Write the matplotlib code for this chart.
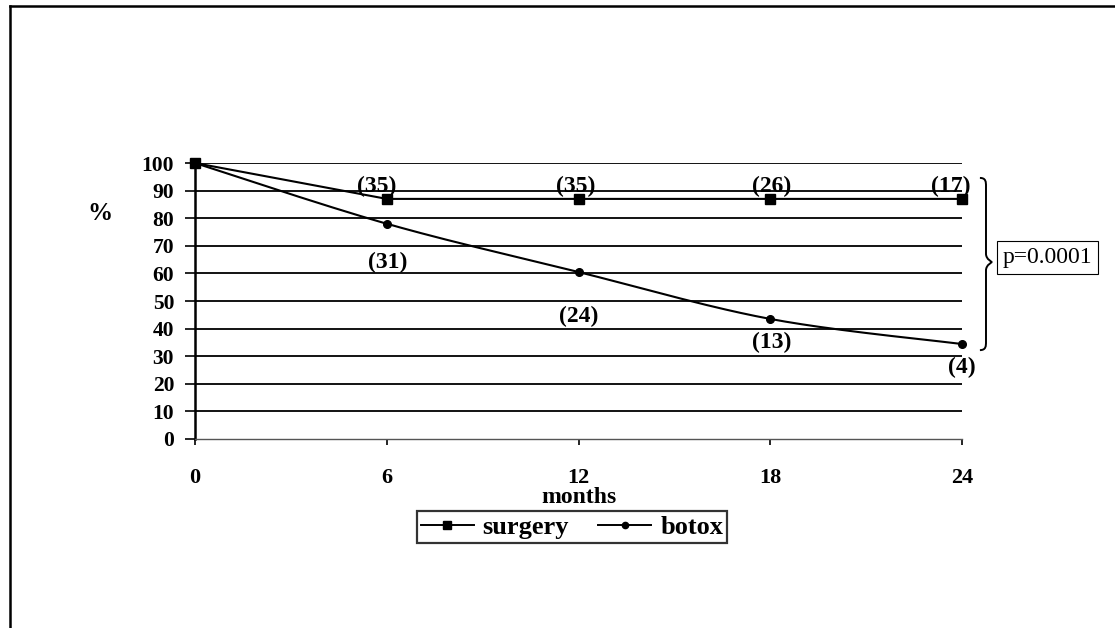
import numpy as np
import matplotlib
matplotlib.use("Agg")
import matplotlib.pyplot as plt
from matplotlib.path import Path
from matplotlib.patches import PathPatch
from matplotlib.lines import Line2D

# Data
months = [0, 6, 12, 18, 24]
surgery = [100, 87, 87, 87, 87]
botox = [100, 78, 60.5, 43.5, 34.4]
surgery_n = ["(35)", "(35)", "(26)", "(17)"]
botox_n = ["(31)", "(24)", "(13)", "(4)"]
y_ticks = list(range(0, 101, 10))
x_ticks = [0, 6, 12, 18, 24]
p_text = "p=0.0001"

plt.rcParams["font.family"] = ["Liberation Serif", "DejaVu Serif"]


def smooth_curve(xs, ys, n=40):
    """Cardinal (Catmull-Rom style) Bezier smoothing through the points."""
    P = np.column_stack([xs, ys]).astype(float)
    ext = np.vstack([P[0], P, P[-1]])
    out = []
    t = np.linspace(0, 1, n)[:, None]
    for i in range(len(P) - 1):
        p0, p1, p2, p3 = ext[i], ext[i + 1], ext[i + 2], ext[i + 3]
        c1 = p1 + (p2 - p0) / 6.0
        c2 = p2 - (p3 - p1) / 6.0
        seg = ((1 - t) ** 3) * p1 + 3 * ((1 - t) ** 2) * t * c1 \
            + 3 * (1 - t) * t ** 2 * c2 + t ** 3 * p2
        out.append(seg if i == 0 else seg[1:])
    arr = np.vstack(out)
    return arr[:, 0], arr[:, 1]


fig = plt.figure(figsize=(11.15, 6.28), dpi=100)
ax = fig.add_axes([0.1749, 0.3010, 0.6879, 0.4394])

ax.set_xlim(0, 24)
ax.set_ylim(0, 100)

# horizontal grid
for yv in y_ticks[1:]:
    ax.axhline(yv, color="black", lw=1.3, zorder=1)

# series
ax.plot(months, surgery, color="black", lw=1.5, zorder=3, clip_on=False)
ax.plot(months, surgery, ls="none", marker="s", ms=7, color="black",
        zorder=4, clip_on=False)
bx, by = smooth_curve(months, botox)
ax.plot(bx, by, color="black", lw=1.5, zorder=3, clip_on=False)
ax.plot(months[1:], botox[1:], ls="none", marker="o", ms=5.5, color="black",
        zorder=4, clip_on=False)

# count labels
sur_off = [(-7, 9), (-2, 9), (1, 9), (-8, 9)]
bot_off = [(1, -28), (0, -32), (1, -17), (0, -17)]
lab_font = dict(fontsize=17, fontweight="bold", ha="center", va="center")
for x, y, s, off in zip(months[1:], surgery[1:], surgery_n, sur_off):
    ax.annotate(s, (x, y), xytext=off, textcoords="offset points",
                annotation_clip=False, **lab_font)
for x, y, s, off in zip(months[1:], botox[1:], botox_n, bot_off):
    ax.annotate(s, (x, y), xytext=off, textcoords="offset points",
                annotation_clip=False, **lab_font)

# axes styling
for side in ("top", "right"):
    ax.spines[side].set_visible(False)
ax.spines["left"].set_linewidth(1.8)
ax.spines["bottom"].set_linewidth(1.0)
ax.spines["bottom"].set_color("#555555")
ax.set_yticks(y_ticks)
ax.set_xticks(x_ticks)
ax.tick_params(axis="y", length=7, width=1.2, pad=8, labelsize=15.5)
ax.tick_params(axis="x", length=4, width=1.2, pad=17, labelsize=16)
for lab in ax.get_xticklabels() + ax.get_yticklabels():
    lab.set_fontweight("bold")

ax.set_xlabel("months", fontsize=17, fontweight="bold", labelpad=-1)
fig.text(100 / 1115, 1 - 213 / 628, "%", fontsize=18, fontweight="bold",
         ha="center", va="center")

# brace joining the two series at 24 months
bx0, bx1, bx2 = 24.56, 24.75, 24.94
yt, ym, yb = 94.6, 64.1, 32.2
verts = [
    (bx0, yt), (bx1, yt), (bx1, yt - 1.5), (bx1, yt - 3.0),
    (bx1, ym + 3.0),
    (bx1, ym + 1.0), (bx2, ym), (bx2, ym),
    (bx2, ym), (bx1, ym - 1.0), (bx1, ym - 3.0),
    (bx1, yb + 3.0),
    (bx1, yb + 1.5), (bx1, yb), (bx0, yb),
]
codes = [Path.MOVETO, Path.CURVE4, Path.CURVE4, Path.CURVE4,
         Path.LINETO,
         Path.CURVE4, Path.CURVE4, Path.CURVE4,
         Path.CURVE4, Path.CURVE4, Path.CURVE4,
         Path.LINETO,
         Path.CURVE4, Path.CURVE4, Path.CURVE4]
ax.add_patch(PathPatch(Path(verts, codes), fill=False, lw=1.4,
                       edgecolor="black", clip_on=False, zorder=5))

ax.text(25.27, ym + 1.8, p_text, fontsize=17, ha="left", va="center",
        bbox=dict(boxstyle="square,pad=0.25", fc="white", ec="black", lw=0.8),
        clip_on=False)

# legend
handles = [
    Line2D([], [], color="black", lw=1.4, marker="s", ms=6),
    Line2D([], [], color="black", lw=1.4, marker="o", ms=4.5),
]
leg = fig.legend(handles, ["surgery", "botox"], loc="center",
                 bbox_to_anchor=(572 / 1115, 1 - 527 / 628), ncol=2,
                 frameon=True, fancybox=False, edgecolor="black",
                 prop=dict(size=19, weight="bold"), handlelength=2.0,
                 handletextpad=0.35, columnspacing=1.1, borderpad=0.15,
                 borderaxespad=0)
leg.get_frame().set_linewidth(1.6)

# page frame (top and left edges)
fig.add_artist(Line2D([10 / 1115, 1.0], [1 - 6 / 628, 1 - 6 / 628],
                      color="black", lw=1.8, transform=fig.transFigure))
fig.add_artist(Line2D([10 / 1115, 10 / 1115], [0.0, 1 - 6 / 628],
                      color="black", lw=1.8, transform=fig.transFigure))

fig.savefig("out.png", dpi=100)
